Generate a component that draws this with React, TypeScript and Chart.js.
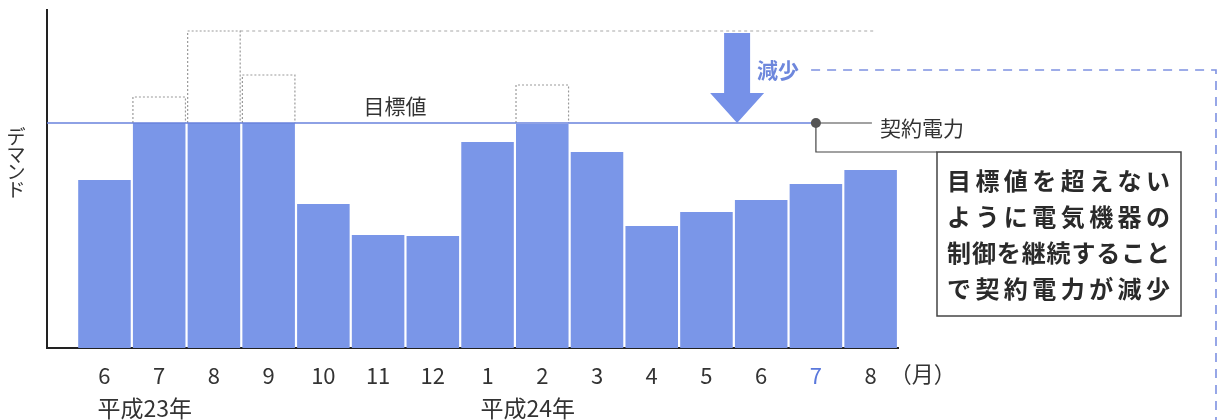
import { useEffect, useRef } from 'react';
import { Chart, registerables } from 'chart.js';

Chart.register(...registerables);

// ---- data ----
const months = ['6', '7', '8', '9', '10', '11', '12', '1', '2', '3', '4', '5', '6', '7', '8'];
const demand = [168, 225, 225, 225, 144, 113, 112, 206, 224, 196, 122, 136, 148, 164, 178];
const originalDemand: (number | null)[] = [null, 251, 317, 273, null, null, null, null, 263, null, null, null, null, null, null];
const targetValue = 225;
const yearLabels = ['平成23年', '平成24年'];
const yearStartIndex = [0, 7];
const highlightIndex = 13;
const targetLabel = '目標値';
const contractLabel = '契約電力';
const decreaseLabel = '減少';
const yTitleChars = ['デ', 'マ', 'ン', 'ド'];
const unitLabel = '（月）';
const calloutLines = ['目標値を超えない', 'ように電気機器の', '制御を継続すること', 'で契約電力が減少'];

// annotation anchors in x-scale units
const arrowXValue = 11.56;
const peakLineEndValue = 14.08;
const targetLabelXValue = 5.31;
const unitXValue = 14.95;

const FONT = '"Noto Sans CJK JP", "Noto Sans", sans-serif';
const BAR_COLOR = 'rgb(122,150,232)';
const LINE_BLUE = 'rgb(105,130,220)';
const TEXT_DARK = '#333';
const HILITE = 'rgb(90,120,220)';

const annotPlugin = {
  id: 'annot',
  afterDatasetsDraw(chart: any) {
    const { ctx, scales, chartArea } = chart;
    const x = scales.x;
    const y = scales.y;
    const meta = chart.getDatasetMeta(0);
    const ty = y.getPixelForValue(targetValue);
    ctx.save();

    // dotted outlines of original demand
    ctx.strokeStyle = '#9a9a9a';
    ctx.lineWidth = 1.2;
    ctx.setLineDash([2, 2]);
    originalDemand.forEach((v, i) => {
      if (v == null) return;
      const el = meta.data[i];
      const l = el.x - el.width / 2;
      const r = el.x + el.width / 2;
      const t = y.getPixelForValue(v);
      ctx.beginPath();
      ctx.moveTo(l, ty);
      ctx.lineTo(l, t);
      ctx.lineTo(r, t);
      ctx.lineTo(r, ty);
      ctx.stroke();
    });

    // peak reference line
    const vals = originalDemand.filter((v) => v != null) as number[];
    const peak = Math.max(...vals);
    const peakIdx = originalDemand.indexOf(peak);
    const pel = meta.data[peakIdx];
    const py = y.getPixelForValue(peak);
    ctx.setLineDash([3, 3]);
    ctx.strokeStyle = '#a8a8a8';
    ctx.beginPath();
    ctx.moveTo(pel.x + pel.width / 2, py);
    ctx.lineTo(x.getPixelForValue(peakLineEndValue), py);
    ctx.stroke();

    // target line
    const dotX = x.getPixelForValue(highlightIndex);
    ctx.setLineDash([]);
    ctx.strokeStyle = LINE_BLUE;
    ctx.lineWidth = 1.3;
    ctx.beginPath();
    ctx.moveTo(chartArea.left, ty);
    ctx.lineTo(dotX, ty);
    ctx.stroke();

    // big arrow
    const ax = x.getPixelForValue(arrowXValue);
    const aTop = py + 2;
    const shaftHalf = 13;
    const headHalf = 27;
    const headH = 30;
    ctx.fillStyle = 'rgb(118,145,232)';
    ctx.beginPath();
    ctx.moveTo(ax - shaftHalf, aTop);
    ctx.lineTo(ax + shaftHalf, aTop);
    ctx.lineTo(ax + shaftHalf, ty - headH);
    ctx.lineTo(ax + headHalf, ty - headH);
    ctx.lineTo(ax, ty);
    ctx.lineTo(ax - headHalf, ty - headH);
    ctx.lineTo(ax - shaftHalf, ty - headH);
    ctx.closePath();
    ctx.fill();

    // 減少 label + dashed leader
    const decY = 70;
    ctx.font = `bold 21px ${FONT}`;
    ctx.fillStyle = 'rgb(110,135,220)';
    ctx.textBaseline = 'middle';
    ctx.textAlign = 'left';
    const decX = ax + 20;
    ctx.fillText(decreaseLabel, decX, decY);
    const decW = ctx.measureText(decreaseLabel).width;
    ctx.strokeStyle = 'rgb(125,145,225)';
    ctx.lineWidth = 1.6;
    ctx.setLineDash([9, 7]);
    const rightX = chart.width - 4;
    ctx.beginPath();
    ctx.moveTo(decX + decW + 12, decY);
    ctx.lineTo(rightX, decY);
    ctx.lineTo(rightX, chart.height);
    ctx.stroke();
    ctx.setLineDash([]);

    // callout for contract power
    ctx.strokeStyle = '#444';
    ctx.lineWidth = 1.2;
    ctx.beginPath();
    ctx.moveTo(dotX, ty);
    ctx.lineTo(dotX + 56, ty);
    ctx.stroke();
    const boxL = 937;
    const boxT = 152;
    const boxR = 1181;
    const boxB = 316;
    ctx.beginPath();
    ctx.moveTo(dotX, ty);
    ctx.lineTo(dotX, boxT);
    ctx.lineTo(boxL, boxT);
    ctx.stroke();
    ctx.fillStyle = '#555';
    ctx.beginPath();
    ctx.arc(dotX, ty, 5, 0, Math.PI * 2);
    ctx.fill();

    ctx.lineWidth = 1.5;
    ctx.strokeStyle = '#444';
    ctx.strokeRect(boxL, boxT, boxR - boxL, boxB - boxT);

    ctx.fillStyle = TEXT_DARK;
    ctx.font = `21px ${FONT}`;
    ctx.fillText(contractLabel, dotX + 64, ty + 5);

    // callout text, justified
    ctx.font = `bold 24px ${FONT}`;
    ctx.fillStyle = '#2a2a2a';
    const tL = 947;
    const tR = 1170;
    calloutLines.forEach((line, li) => {
      const chars = Array.from(line);
      const ws = chars.map((c) => ctx.measureText(c).width);
      const total = ws.reduce((a, b) => a + b, 0);
      const gap = chars.length > 1 ? (tR - tL - total) / (chars.length - 1) : 0;
      let cx = tL;
      const cy = 181 + li * 36;
      chars.forEach((c, ci) => {
        ctx.fillText(c, cx, cy);
        cx += ws[ci] + Math.max(gap, -2);
      });
    });

    // 目標値 label
    ctx.font = `21px ${FONT}`;
    ctx.fillStyle = TEXT_DARK;
    ctx.textAlign = 'center';
    ctx.fillText(targetLabel, x.getPixelForValue(targetLabelXValue), ty - 17);

    // y title (vertical)
    ctx.font = `19px ${FONT}`;
    yTitleChars.forEach((c, i) => {
      ctx.fillText(c, 16, 137 + i * 17.5);
    });

    // unit label
    ctx.font = `22px ${FONT}`;
    ctx.fillText(unitLabel, x.getPixelForValue(unitXValue), 374);

    // year labels
    ctx.textAlign = 'left';
    ctx.font = `23px ${FONT}`;
    yearLabels.forEach((lab, i) => {
      const px = x.getPixelForValue(yearStartIndex[i]);
      ctx.fillText(lab, px - 7, 408);
    });

    ctx.restore();
  },
};

export default function App() {
  const ref = useRef<HTMLCanvasElement | null>(null);
  useEffect(() => {
    if (!ref.current) return;
    const chart = new Chart(ref.current, {
      type: 'bar',
      data: {
        datasets: [
          {
            data: demand.map((v, i) => ({ x: i, y: v })),
            backgroundColor: BAR_COLOR,
            borderWidth: 0,
            barPercentage: 0.96,
            categoryPercentage: 1,
          },
        ],
      },
      options: {
        animation: false,
        responsive: false,
        maintainAspectRatio: false,
        layout: { padding: { left: 0, top: 10, right: 322, bottom: 0 } },
        plugins: { legend: { display: false }, tooltip: { enabled: false } },
        scales: {
          x: {
            type: 'linear',
            offset: false,
            min: -1.05,
            max: 14.5,
            grid: { display: false, drawTicks: false, offset: false },
            border: { color: '#222', width: 2 },
            afterBuildTicks: (s: any) => {
              s.ticks = months.map((_, i) => ({ value: i }));
            },
            afterFit: (s: any) => {
              s.height = 72;
            },
            ticks: {
              padding: 14,
              autoSkip: false,
              maxRotation: 0,
              font: { family: FONT, size: 22 },
              color: (c: any) => (c.index === highlightIndex ? HILITE : TEXT_DARK),
              callback: (_v: any, i: number) => months[i] ?? '',
            },
          },
          y: {
            min: 0,
            max: 338,
            grid: { display: false },
            border: { color: '#222', width: 2 },
            ticks: { display: false },
            afterFit: (s: any) => {
              s.width = 47;
            },
          },
        },
      } as any,
      plugins: [annotPlugin],
    });
    return () => chart.destroy();
  }, []);
  return (
    <div style={{ position: 'absolute', left: 0, top: 0, width: 1220, height: 420, background: '#fff' }}>
      <canvas ref={ref} width={1220} height={420} style={{ display: 'block', width: 1220, height: 420 }} />
    </div>
  );
}
